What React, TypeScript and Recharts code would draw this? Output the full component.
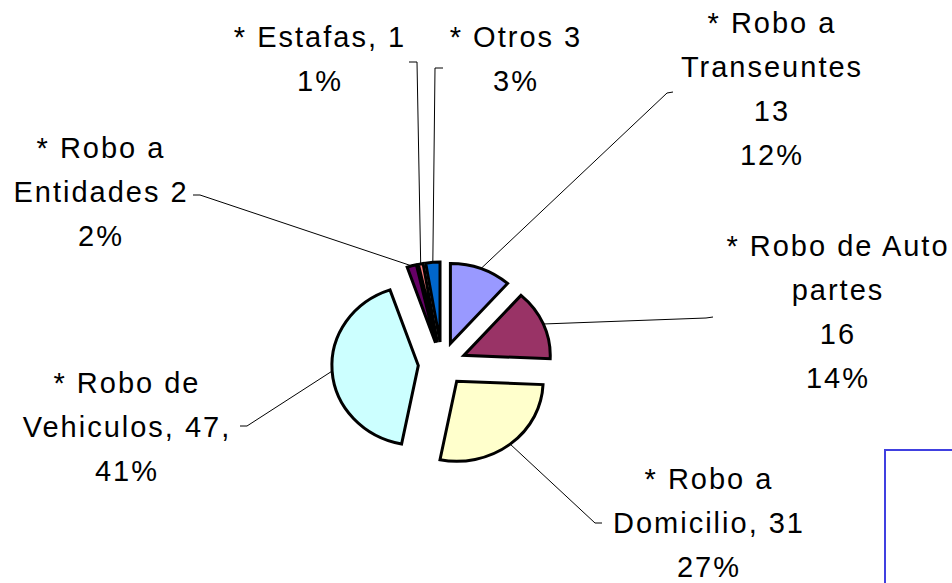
import { PieChart, Pie, Cell, Sector } from 'recharts';

const categories = [
  '* Robo a Transeuntes',
  '* Robo de Auto partes',
  '* Robo a Domicilio',
  '* Robo de Vehiculos',
  '* Robo a Entidades',
  '* Estafas',
  '* Otros',
];
const values = [13, 16, 31, 47, 2, 1, 3];
const labelLines = [
  ['* Robo a', 'Transeuntes', '13', '12%'],
  ['* Robo de Auto', 'partes', '16', '14%'],
  ['* Robo a', 'Domicilio, 31', '27%'],
  ['* Robo de', 'Vehiculos, 47,', '41%'],
  ['* Robo a', 'Entidades 2', '2%'],
  ['* Estafas, 1', '1%'],
  ['* Otros 3', '3%'],
];
const colors = ['#9999FF', '#993366', '#FFFFCC', '#CCFFFF', '#660066', '#FF8080', '#0066CC'];

// hand-placed label boxes (text centre + first baseline) and leader elbows, like the original
const labelLayout = [
  { x: 772, y: 33, elbow: [667, 93], end: [673, 92] },
  { x: 838, y: 256, elbow: [706, 318], end: [713, 317] },
  { x: 709, y: 489, elbow: [595, 523], end: [602, 523] },
  { x: 127, y: 393, elbow: [247, 426], end: [240, 426] },
  { x: 101, y: 158, elbow: [200, 195], end: [193, 195] },
  { x: 320, y: 47, elbow: [417, 62], end: [409, 62] },
  { x: 516, y: 47, elbow: [435, 68], end: [443, 68] },
];

const chartData = categories.map((name, i) => ({ name, value: values[i] }));

const RAD = Math.PI / 180;
const EXPLODE = 22;
const SX = 1.08;
const LINE_H = 44;

function ExplodedSector(props: any) {
  const { cx, cy, midAngle, outerRadius, startAngle, endAngle, fill } = props;
  const dx = Math.cos(-midAngle * RAD) * EXPLODE * SX;
  const dy = Math.sin(-midAngle * RAD) * EXPLODE;
  return (
    <g transform={`translate(${cx + dx} ${cy + dy}) scale(${SX} 1)`}>
      <Sector
        cx={0}
        cy={0}
        innerRadius={0}
        outerRadius={outerRadius}
        startAngle={startAngle}
        endAngle={endAngle}
        fill={fill}
        stroke="#000"
        strokeWidth={3}
        strokeLinejoin="miter"
        vectorEffect="non-scaling-stroke"
      />
    </g>
  );
}

function renderLabel(props: any) {
  const { cx, cy, midAngle, outerRadius, index } = props;
  const lay = labelLayout[index];
  const r = outerRadius + EXPLODE;
  const sx = cx + Math.cos(-midAngle * RAD) * r * SX;
  const sy = cy + Math.sin(-midAngle * RAD) * r;
  return (
    <g key={`lbl-${index}`}>
      <polyline
        points={`${sx},${sy} ${lay.elbow[0]},${lay.elbow[1]} ${lay.end[0]},${lay.end[1]}`}
        fill="none"
        stroke="#000"
        strokeWidth={1}
      />
      <text
        x={lay.x}
        y={lay.y}
        textAnchor="middle"
        fontFamily="'Liberation Sans', Arial, sans-serif"
        fontSize={29}
        letterSpacing={2}
        fill="#000"
      >
        {labelLines[index].map((line, j) => (
          <tspan key={j} x={lay.x} dy={j === 0 ? 0 : LINE_H}>
            {line}
          </tspan>
        ))}
      </text>
    </g>
  );
}

export default function App() {
  return (
    <div style={{ position: 'relative', width: 952, height: 583, background: '#fff', overflow: 'hidden' }}>
      <style>{'body{margin:0}'}</style>
      <PieChart width={952} height={583} margin={{ top: 0, right: 0, bottom: 0, left: 0 }}>
        <Pie
          data={chartData}
          dataKey="value"
          nameKey="name"
          cx={442}
          cy={364}
          outerRadius={80}
          startAngle={90}
          endAngle={-270}
          shape={ExplodedSector}
          label={renderLabel}
          labelLine={false}
          isAnimationActive={false}
        >
          {chartData.map((d, i) => (
            <Cell key={d.name} fill={colors[i]} />
          ))}
        </Pie>
      </PieChart>
      {/* legend frame, cut off by the picture edge in the original */}
      <div
        style={{
          position: 'absolute',
          left: 884,
          top: 449,
          width: 120,
          height: 200,
          border: '2px solid #4040E0',
          boxSizing: 'border-box',
        }}
      />
    </div>
  );
}
